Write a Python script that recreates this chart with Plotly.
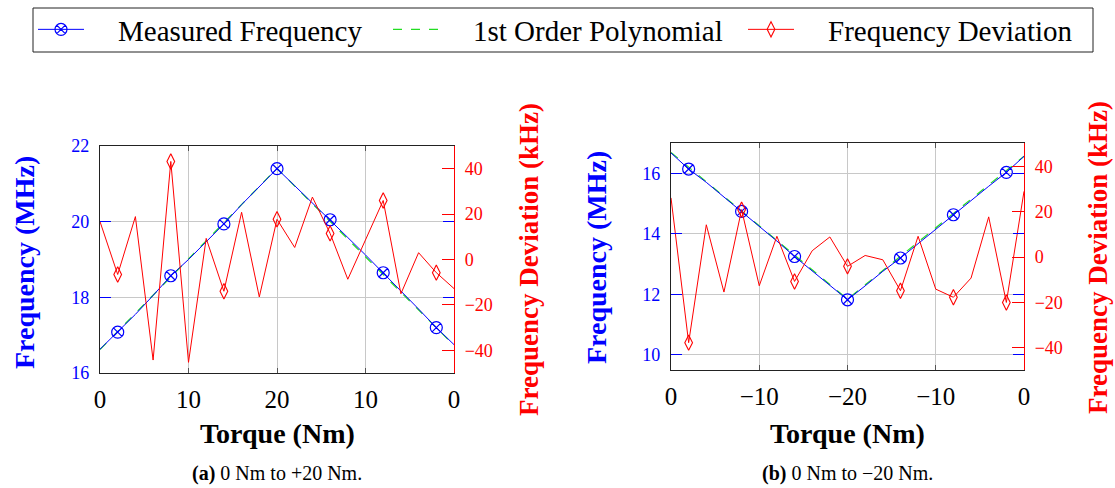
import plotly.graph_objects as go

W, H = 1115, 488
SERIF = "Liberation Serif"

# ---------------- data ----------------
steps = [0, 2, 4, 6, 8, 10, 12, 14, 16, 18, 20, 22, 24, 26, 28, 30, 32, 34, 36, 38, 40]
tick_vals = [0, 10, 20, 30, 40]
tick_text_a = ["0", "10", "20", "10", "0"]
tick_text_b = ["0", "\u221210", "\u221220", "\u221210", "0"]
marker_idx = [1, 4, 7, 10, 13, 16, 19]

freq_a = [16.63, 17.08, 17.55, 18.05, 18.57, 19.00, 19.47, 19.94, 20.45, 20.93, 21.40,
          20.95, 20.50, 20.05, 19.58, 19.12, 18.65, 18.17, 17.69, 17.20, 16.75]
freq_b = [16.67, 16.14, 15.70, 15.22, 14.74, 14.25, 13.76, 13.25, 12.78, 12.30, 11.82,
          12.28, 12.76, 13.20, 13.68, 14.16, 14.63, 15.10, 15.57, 16.03, 16.56]

fit_steps = [0, 20, 40]
fit_a = [16.62, 21.41, 16.73]
fit_b = [16.69, 11.84, 16.56]

dev_a = [16.7, -6.6, 18.9, -44.3, 43.2, -45.3, 9.3, -14.0, 20.8, -16.5, 17.7,
         5.3, 27.5, 11.5, -8.7, 9.0, 26.0, -15.1, 3.0, -5.8, -12.8]
dev_b = [26.2, -37.9, 14.3, -15.5, 21.0, -12.7, 9.2, -10.8, 2.8, 8.9, -4.1,
         0.7, -1.2, -14.9, 9.2, -14.2, -17.8, -9.3, 17.8, -20.1, 29.1]

freq_ticks_a = [16, 18, 20, 22]
freq_ticks_b = [10, 12, 14, 16]
dev_ticks = [-40, -20, 0, 20, 40]

series_names = ["Measured Frequency", "1st Order Polynomial", "Frequency Deviation"]

BLUE, RED, GREEN = "#0000ff", "#ff0000", "#22dd22"

fig = go.Figure()


def add_panel(xa, ya, ya2, freq, fit, dev):
    fig.add_trace(go.Scatter(x=fit_steps, y=fit, xaxis=xa, yaxis=ya, mode="lines",
                             line=dict(color=GREEN, width=1.2, dash="dash"), showlegend=False))
    fig.add_trace(go.Scatter(x=steps, y=freq, xaxis=xa, yaxis=ya, mode="lines",
                             line=dict(color=BLUE, width=1), showlegend=False))
    fig.add_trace(go.Scatter(x=[steps[i] for i in marker_idx], y=[freq[i] for i in marker_idx],
                             xaxis=xa, yaxis=ya, mode="markers",
                             marker=dict(symbol="circle-x-open", size=12, color=BLUE,
                                         line=dict(width=1.2, color=BLUE)),
                             showlegend=False))
    fig.add_trace(go.Scatter(x=steps, y=dev, xaxis=xa, yaxis=ya2, mode="lines",
                             line=dict(color=RED, width=1), showlegend=False))
    fig.add_trace(go.Scatter(x=[steps[i] for i in marker_idx], y=[dev[i] for i in marker_idx],
                             xaxis=xa, yaxis=ya2, mode="markers",
                             marker=dict(symbol="diamond-tall-open", size=11, color=RED,
                                         line=dict(width=1.1, color=RED)),
                             showlegend=False))


add_panel("x", "y", "y2", freq_a, fit_a, dev_a)
add_panel("x2", "y3", "y4", freq_b, fit_b, dev_b)

PAD = "\u00a0" * 4
# legend-only entries
fig.add_trace(go.Scatter(x=[None], y=[None], mode="lines+markers", name=PAD + series_names[0],
                         line=dict(color=BLUE, width=1),
                         marker=dict(symbol="circle-x-open", size=12, color=BLUE,
                                     line=dict(width=1.2, color=BLUE))))
fig.add_trace(go.Scatter(x=[None], y=[None], mode="lines", name=PAD + series_names[1],
                         line=dict(color=GREEN, width=1.2, dash="dash")))
fig.add_trace(go.Scatter(x=[None], y=[None], mode="lines+markers", name=PAD + series_names[2],
                         line=dict(color=RED, width=1),
                         marker=dict(symbol="diamond-tall-open", size=11, color=RED,
                                     line=dict(width=1.1, color=RED))))


def xaxis(dom, ticktext, anchor):
    return dict(domain=dom, range=[0, 40], tickvals=tick_vals, ticktext=ticktext,
                anchor=anchor, showgrid=True, gridcolor="#c8c8c8", gridwidth=1,
                showline=True, linecolor="#222222", linewidth=1.2, mirror="ticks",
                ticks="inside", ticklen=5, tickcolor="#555555", zeroline=False,
                tickfont=dict(family=SERIF, size=25, color="black"),
                ticklabelstandoff=4, automargin=False)


def yleft(dom, rng, tv, anchor):
    return dict(domain=dom, range=rng, tickvals=tv, anchor=anchor, showgrid=True,
                gridcolor="#c8c8c8", gridwidth=1, showline=True, linecolor="#222222",
                linewidth=1.2, mirror="ticks", ticks="inside", ticklen=11, tickcolor=BLUE,
                tickfont=dict(family=SERIF, size=18, color=BLUE), zeroline=False,
                ticklabelstandoff=6, automargin=False)


def yright(over, anchor, rng):
    return dict(overlaying=over, anchor=anchor, side="right", range=rng, tickvals=dev_ticks,
                showgrid=False, showline=True, linecolor=RED, linewidth=1.2,
                ticks="inside", ticklen=12, tickcolor=RED, zeroline=False,
                tickfont=dict(family=SERIF, size=18, color=RED),
                ticklabelstandoff=6, automargin=False)


ydom_a = [1 - 373 / H, 1 - 146 / H]
ydom_b = [1 - 370 / H, 1 - 143 / H]

fig.update_layout(
    width=W, height=H, margin=dict(l=0, r=0, t=0, b=0),
    paper_bgcolor="white", plot_bgcolor="white",
    xaxis=xaxis([100 / W, 454 / W], tick_text_a, "y"),
    yaxis=yleft(ydom_a, [16, 22], freq_ticks_a, "x"),
    yaxis2=yright("y", "x", [-50, 50]),
    xaxis2=xaxis([671 / W, 1024 / W], tick_text_b, "y3"),
    yaxis3=yleft(ydom_b, [9.5, 17], freq_ticks_b, "x2"),
    yaxis4=yright("y3", "x2", [-50, 50.5]),
    showlegend=True,
    legend=dict(orientation="h", xref="paper", yref="paper",
                x=33 / W, xanchor="left", y=1 - 4 / H, yanchor="top",
                borderwidth=0, bgcolor="rgba(0,0,0,0)",
                font=dict(family=SERIF, size=29, color="black"),
                itemwidth=46, entrywidth=294, entrywidthmode="pixels",
                itemclick=False),
    shapes=[dict(type="rect", xref="paper", yref="paper", x0=33 / W, x1=1093 / W,
                 y0=1 - 52 / H, y1=1 - 8 / H, line=dict(color="#222222", width=1),
                 fillcolor="rgba(0,0,0,0)", layer="below")],
)

ann = []


def text(x, y, s, size, color="black", angle=0):
    ann.append(dict(x=x / W, y=1 - y / H, xref="paper", yref="paper", text=s,
                    showarrow=False, textangle=angle, xanchor="center", yanchor="middle",
                    font=dict(family=SERIF, size=size, color=color)))


text(277, 433, "<b>Torque (Nm)</b>", 28)
text(847, 433, "<b>Torque (Nm)</b>", 28)
text(24, 263, "<b>Frequency (MHz)</b>", 28, BLUE, -90)
text(596, 258, "<b>Frequency (MHz)</b>", 28, BLUE, -90)
text(529, 260, "<b>Frequency Deviation (kHz)</b>", 27, RED, -90)
text(1098, 258, "<b>Frequency Deviation (kHz)</b>", 27, RED, -90)
text(277, 473, "<b>(a)</b> 0 Nm to +20 Nm.", 20)
text(847, 473, "<b>(b)</b> 0 Nm to \u221220 Nm.", 20)
fig.update_layout(annotations=ann)

fig.write_html("out.html")
